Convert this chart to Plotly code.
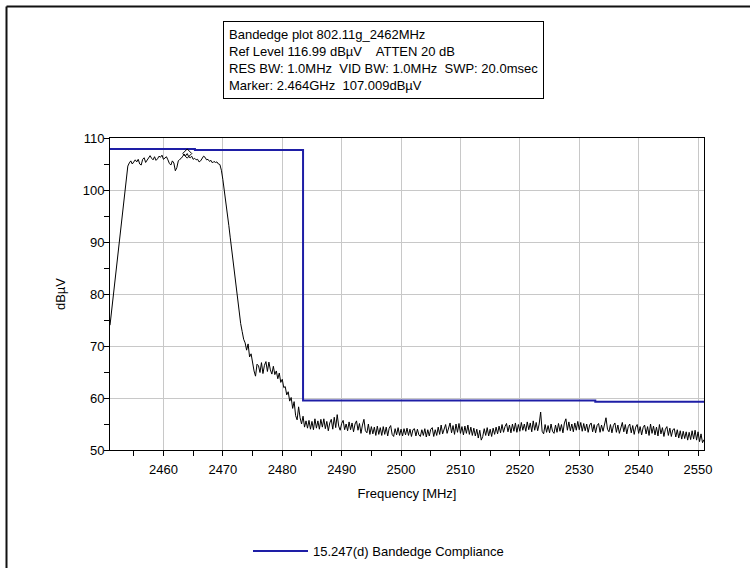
import plotly.graph_objects as go

# ---- sweep definition ----
FREQ_START_MHZ = 2451.0
FREQ_STEP_MHZ = 0.25

# measured trace (dBµV), 0.25 MHz per point, rows of 5 MHz
trace_2451 = [74.0, 76.5, 79.0, 81.5, 84.0, 86.5, 88.8, 91.5, 94.0, 97.0, 100.0, 102.5, 104.6, 105.2, 105.6, 105.0, 105.3, 105.8, 105.4, 105.9]
trace_2456 = [105.0, 104.8, 105.9, 106.2, 105.3, 105.7, 106.3, 106.6, 106.1, 105.8, 106.4, 105.7, 106.0, 106.5, 106.3, 106.7, 105.9, 106.1, 106.4, 105.8]
trace_2461 = [105.1, 104.8, 105.6, 105.2, 103.7, 104.3, 105.6, 105.9, 106.1, 106.5, 106.9, 106.6, 107.0, 106.4, 106.2, 106.5, 105.9, 106.1, 105.8, 105.9]
trace_2466 = [105.4, 105.6, 106.1, 106.5, 106.3, 105.8, 105.9, 105.5, 105.7, 105.2, 105.5, 105.3, 105.4, 105.0, 104.9, 103.8, 102.0, 100.0, 97.8, 95.5]
trace_2471 = [93.2, 90.8, 88.3, 85.8, 83.3, 80.8, 78.5, 76.2, 74.3, 72.8, 71.3, 70.6, 69.2, 70.4, 67.9, 68.5, 66.7, 65.2, 64.2, 66.5]
trace_2476 = [66.2, 64.9, 66.8, 64.7, 66.3, 67.0, 65.1, 66.9, 65.4, 64.6, 66.1, 64.5, 65.2, 63.7, 64.8, 63.0, 63.6, 62.0, 62.2, 60.6]
trace_2481 = [61.2, 59.4, 60.1, 58.0, 59.3, 56.6, 55.8, 58.3, 56.2, 55.0, 56.5, 54.4, 55.6, 54.2, 55.7, 54.0, 55.5, 53.9, 56.0, 54.2]
trace_2486 = [55.6, 54.0, 55.9, 54.4, 56.0, 54.1, 55.5, 53.7, 55.2, 55.9, 54.0, 56.3, 54.3, 56.8, 54.6, 53.8, 55.1, 55.7, 53.9, 55.0]
trace_2491 = [53.7, 55.4, 53.9, 55.2, 53.5, 55.0, 55.6, 53.8, 55.1, 53.2, 54.8, 55.9, 53.7, 53.3, 55.0, 53.0, 54.5, 53.1, 54.4, 52.8]
trace_2496 = [54.6, 53.0, 54.3, 52.8, 54.5, 53.0, 54.4, 52.7, 54.2, 54.7, 53.0, 52.6, 54.1, 52.9, 54.3, 52.8, 54.0, 52.7, 54.1, 52.9]
trace_2501 = [54.2, 52.8, 54.0, 52.6, 53.9, 54.1, 52.7, 54.0, 52.9, 52.6, 53.9, 52.8, 54.1, 52.5, 53.9, 52.7, 54.0, 54.3, 52.6, 53.9]
trace_2506 = [52.8, 54.4, 53.0, 54.8, 53.1, 54.3, 54.9, 53.2, 54.5, 55.2, 53.3, 54.7, 53.0, 55.0, 53.4, 55.1, 53.2, 54.5, 52.9, 54.6]
trace_2511 = [53.2, 54.8, 53.0, 54.4, 52.8, 54.2, 52.7, 54.0, 52.3, 53.8, 51.9, 52.6, 54.1, 52.8, 54.3, 52.7, 54.0, 52.6, 54.2, 53.0]
trace_2516 = [54.4, 53.1, 54.6, 53.3, 54.9, 53.4, 54.5, 55.1, 53.5, 54.8, 53.3, 55.0, 53.6, 55.2, 53.4, 54.9, 53.6, 55.3, 53.8, 55.0]
trace_2521 = [53.6, 55.4, 53.9, 55.2, 53.5, 55.6, 53.8, 55.3, 53.7, 55.0, 57.3, 53.6, 53.1, 54.9, 53.4, 54.7, 53.3, 55.0, 53.6, 53.2]
trace_2526 = [54.8, 53.4, 55.1, 53.6, 54.9, 53.3, 55.2, 56.0, 53.8, 55.4, 53.7, 55.0, 53.5, 55.2, 53.8, 55.5, 53.9, 55.3, 53.6, 55.1]
trace_2531 = [53.7, 55.0, 53.4, 54.8, 55.2, 53.5, 54.9, 53.3, 54.7, 55.1, 53.4, 54.8, 53.6, 55.2, 56.2, 54.0, 53.5, 54.9, 53.3, 54.7]
trace_2536 = [55.2, 53.4, 54.8, 53.2, 54.6, 55.3, 53.5, 54.9, 53.1, 54.5, 55.0, 53.3, 54.7, 53.0, 54.4, 54.9, 53.2, 54.5, 52.9, 54.3]
trace_2541 = [54.8, 53.1, 54.5, 52.8, 55.0, 53.2, 54.6, 52.9, 54.4, 52.7, 54.9, 53.1, 54.3, 52.6, 54.0, 54.5, 52.8, 54.2, 52.6, 53.9]
trace_2546 = [54.1, 52.5, 53.9, 52.3, 53.7, 52.1, 53.6, 52.2, 53.5, 51.9, 53.4, 52.0, 53.7, 52.1, 53.8, 51.9, 53.5, 51.6, 53.1, 51.4]
trace_2551 = [52.0]

# 15.247(d) limit line (step function)
limit_freq = [2451.0, 2465.3, 2483.5, 2532.7, 2551.0]
limit_level = [107.9, 107.7, 59.5, 59.3, 59.3]

# marker
marker_freq = [2464.0]
marker_level = [107.009]

x_ticks = [2460, 2470, 2480, 2490, 2500, 2510, 2520, 2530, 2540, 2550]
y_ticks = [50, 60, 70, 80, 90, 100, 110]

header_lines = [
    "Bandedge plot 802.11g_2462MHz",
    "Ref Level 116.99 dBµV    ATTEN 20 dB",
    "RES BW: 1.0MHz  VID BW: 1.0MHz  SWP: 20.0msec",
    "Marker: 2.464GHz  107.009dBµV",
]

trace_level = (trace_2451 + trace_2456 + trace_2461 + trace_2466 + trace_2471 + trace_2476 +
               trace_2481 + trace_2486 + trace_2491 + trace_2496 + trace_2501 + trace_2506 +
               trace_2511 + trace_2516 + trace_2521 + trace_2526 + trace_2531 + trace_2536 +
               trace_2541 + trace_2546 + trace_2551)
trace_freq = [FREQ_START_MHZ + i * FREQ_STEP_MHZ for i in range(len(trace_level))]

FONT = "Liberation Sans, Arial, sans-serif"

fig = go.Figure()
fig.add_trace(go.Scatter(
    x=trace_freq, y=trace_level, mode="lines",
    line=dict(color="black", width=1), showlegend=False, hoverinfo="skip"))
fig.add_trace(go.Scatter(
    x=limit_freq, y=limit_level, mode="lines", line_shape="hv",
    line=dict(color="#1e1ea6", width=2),
    name="15.247(d) Bandedge Compliance", showlegend=True))
fig.add_trace(go.Scatter(
    x=marker_freq, y=marker_level, mode="markers",
    marker=dict(symbol="diamond-open", size=7, color="black", line=dict(width=1)),
    showlegend=False))

L, R, T, B = 110, 46, 138, 118
W, H = 750, 568
pw, ph = W - L - R, H - T - B

def px(xp):
    return (xp - L) / pw

def py(yp):
    return (H - B - yp) / ph

fig.update_layout(
    width=W, height=H,
    margin=dict(l=L, r=R, t=T, b=B, pad=0, autoexpand=False),
    paper_bgcolor="white", plot_bgcolor="white",
    font=dict(family=FONT, size=13, color="black"),
    legend=dict(orientation="h", x=px(248), y=py(551), xanchor="left", yanchor="middle",
                itemwidth=55, font=dict(size=13), bgcolor="rgba(0,0,0,0)"),
    annotations=[dict(
        xref="paper", yref="paper", x=px(223), y=py(21), xanchor="left", yanchor="top",
        text="<br>".join(header_lines), align="left", showarrow=False,
        font=dict(size=13, color="black"), bordercolor="black", borderwidth=1,
        borderpad=5, bgcolor="white")],
    shapes=[
        dict(type="line", xref="paper", yref="paper", x0=px(6.5), x1=px(6.5), y0=py(6.5), y1=py(H),
             line=dict(color="#111111", width=2)),
        dict(type="line", xref="paper", yref="paper", x0=px(6.5), x1=px(W), y0=py(6.5), y1=py(6.5),
             line=dict(color="#111111", width=2)),
    ],
)

fig.update_xaxes(
    range=[2451, 2551], tickvals=x_ticks, ticktext=[str(v) for v in x_ticks],
    showgrid=True, gridcolor="#c8c8c8", gridwidth=1,
    showline=True, linecolor="black", linewidth=1, mirror=True,
    ticks="outside", ticklen=5, tickcolor="black", ticklabelstandoff=2,
    minor=dict(tick0=2450, dtick=5, ticks="outside", ticklen=5, tickcolor="black", showgrid=False),
    title=dict(text="Frequency [MHz]", font=dict(size=13), standoff=13),
    zeroline=False)
fig.update_yaxes(
    range=[50, 110], tickvals=y_ticks, ticktext=[str(v) for v in y_ticks],
    showgrid=True, gridcolor="#c8c8c8", gridwidth=1,
    showline=True, linecolor="black", linewidth=1, mirror=True,
    ticks="outside", ticklen=5, tickcolor="black", ticklabelstandoff=-3,
    minor=dict(tick0=50, dtick=5, ticks="outside", ticklen=5, tickcolor="black", showgrid=False),
    title=dict(text="dBµV", font=dict(size=13), standoff=14),
    zeroline=False)

fig.write_html("out.html")
